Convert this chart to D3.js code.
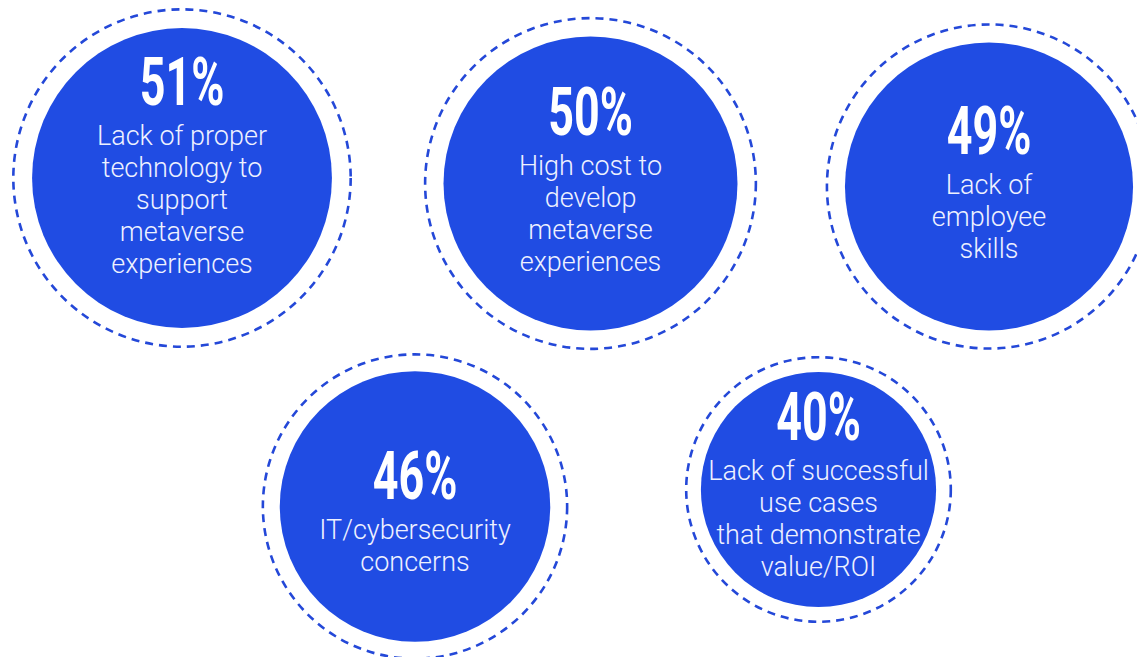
<!DOCTYPE html>
<html>
<head>
<meta charset="utf-8">
<script src="https://cdn.jsdelivr.net/npm/d3@7"></script>
<style>
  html, body { margin: 0; padding: 0; background: #ffffff; }
  svg { display: block; }
</style>
</head>
<body>
<svg id="chart" width="1137" height="657"></svg>
<script>
// ---- data ----
const categories = [
  "Lack of proper technology to support metaverse experiences",
  "High cost to develop metaverse experiences",
  "Lack of employee skills",
  "IT/cybersecurity concerns",
  "Lack of successful use cases that demonstrate value/ROI"
];
const values = [51, 50, 49, 46, 40];
const labelLines = [
  ["Lack of proper", "technology to", "support", "metaverse", "experiences"],
  ["High cost to", "develop", "metaverse", "experiences"],
  ["Lack of", "employee", "skills"],
  ["IT/cybersecurity", "concerns"],
  ["Lack of successful", "use cases", "that demonstrate", "value/ROI"]
];

// ---- layout (positions, not data) ----
const layout = [
  { cx: 182,   cy: 178,   textY: 105 },
  { cx: 590.5, cy: 183.5, textY: 135 },
  { cx: 989,   cy: 186.5, textY: 154 },
  { cx: 415,   cy: 506.5, textY: 499 },
  { cx: 818.5, cy: 489.5, textY: 440 }
];

const fill = "#204ce3";
const svg = d3.select("#chart");
const r = d3.scaleLinear().domain([0, 100]).range([0, 294]);

const items = values.map((v, i) => ({ v, lines: labelLines[i], cat: categories[i], ...layout[i] }));

const g = svg.selectAll("g.bubble").data(items).join("g").attr("class", "bubble");

g.append("circle")
  .attr("cx", d => d.cx).attr("cy", d => d.cy)
  .attr("r", d => r(d.v) * 1.125)
  .attr("fill", "none")
  .attr("stroke", "#2448d8")
  .attr("stroke-width", 2.6)
  .attr("stroke-dasharray", "8 6");

g.append("circle")
  .attr("cx", d => d.cx).attr("cy", d => d.cy)
  .attr("r", d => r(d.v))
  .attr("fill", fill);

g.append("text")
  .attr("transform", d => `translate(${d.cx},${d.textY}) scale(0.68,1)`)
  .attr("text-anchor", "middle")
  .attr("font-family", "Roboto, 'DejaVu Sans', sans-serif")
  .attr("font-weight", 700)
  .attr("font-size", 66)
  .attr("fill", "#ffffff")
  .text(d => d.v + "%");

g.each(function(d) {
  const t = d3.select(this).append("text")
    .attr("text-anchor", "middle")
    .attr("font-family", "Roboto, 'Liberation Sans', sans-serif")
    .attr("font-weight", 300)
    .attr("font-size", 27)
    .attr("fill", "#eef1ff");
  d.lines.forEach((line, j) => {
    t.append("tspan")
      .attr("x", d.cx)
      .attr("y", d.textY + 40 + j * 32)
      .text(line);
  });
});
</script>
</body>
</html>
